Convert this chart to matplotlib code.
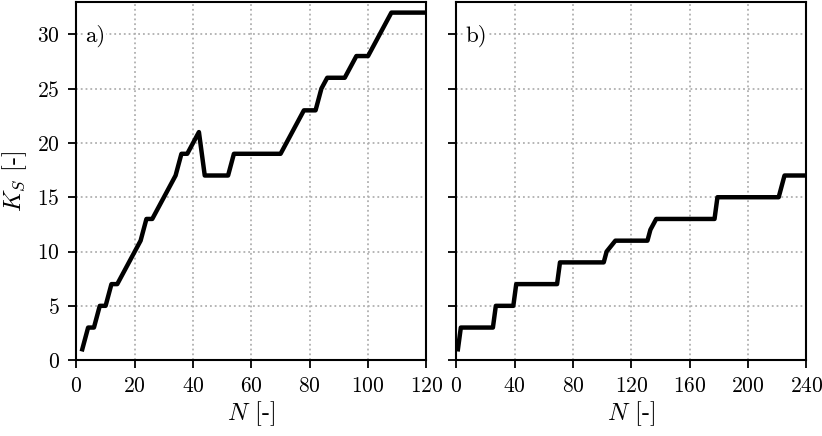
"""Step curves of K_S against N for two cases, a) and b)."""

import matplotlib

matplotlib.use("Agg")

import matplotlib.pyplot as plt


# panel a)
LEFT_N = [2, 4, 6, 8, 10, 12, 14, 22, 24, 26, 34, 36, 38, 42, 44, 52, 54, 70, 78, 82, 84, 86, 92, 96, 100, 108, 120]
LEFT_K = [1, 3, 3, 5, 5, 7, 7, 11, 13, 13, 17, 19, 19, 21, 17, 17, 19, 19, 23, 23, 25, 26, 26, 28, 28, 32, 32]

# panel b)
RIGHT_N = [1, 3, 25, 27, 39, 41, 69, 71, 101, 103, 109, 131, 133, 137, 177, 179, 221, 225, 240]
RIGHT_K = [1, 3, 3, 5, 5, 7, 7, 9, 9, 10, 11, 11, 12, 13, 13, 15, 15, 17, 17]

LEFT_TICKS = [0, 20, 40, 60, 80, 100, 120]
RIGHT_TICKS = [0, 40, 80, 120, 160, 200, 240]
Y_TICKS = [0, 5, 10, 15, 20, 25, 30]
PANEL_LABELS = ["a)", "b)"]

plt.rcParams.update({
    "font.family": "serif",
    "font.serif": ["cmr10", "DejaVu Serif"],
    "mathtext.fontset": "cm",
    "axes.unicode_minus": False,
    "axes.formatter.use_mathtext": True,
    "font.size": 15,
})


def style_axis(ax, xmax, xticks, label):
    ax.set_xlim(0, xmax)
    ax.set_ylim(0, 33)
    ax.set_xticks(xticks)
    ax.set_yticks(Y_TICKS)
    ax.grid(True, color="#b0b0b0", linestyle=":", linewidth=1.3)
    ax.set_axisbelow(True)
    for spine in ax.spines.values():
        spine.set_linewidth(1.5)
    ax.tick_params(direction="out", length=6, width=1.3, labelsize=15.5, pad=6)
    ax.set_xlabel(r"$N$ [-]", fontsize=17.5, labelpad=2)
    ax.text(0.025, 0.935, label, transform=ax.transAxes, ha="left", va="top", fontsize=16.5,
            bbox={"facecolor": "white", "edgecolor": "none", "pad": 0.5})


fig, axes = plt.subplots(1, 2, figsize=(8.22, 4.36), dpi=100, sharey=True)
fig.subplots_adjust(left=0.093, right=0.981, bottom=0.174, top=0.996, wspace=0.086)

axes[0].plot(LEFT_N, LEFT_K, color="black", linewidth=3.2)
style_axis(axes[0], 120, LEFT_TICKS, PANEL_LABELS[0])
axes[0].set_ylabel(r"$K_S$ [-]", fontsize=17.5, labelpad=6)

axes[1].plot(RIGHT_N, RIGHT_K, color="black", linewidth=3.2)
style_axis(axes[1], 240, RIGHT_TICKS, PANEL_LABELS[1])
axes[1].tick_params(labelleft=False)

fig.savefig("out.png", dpi=100, facecolor="white")
